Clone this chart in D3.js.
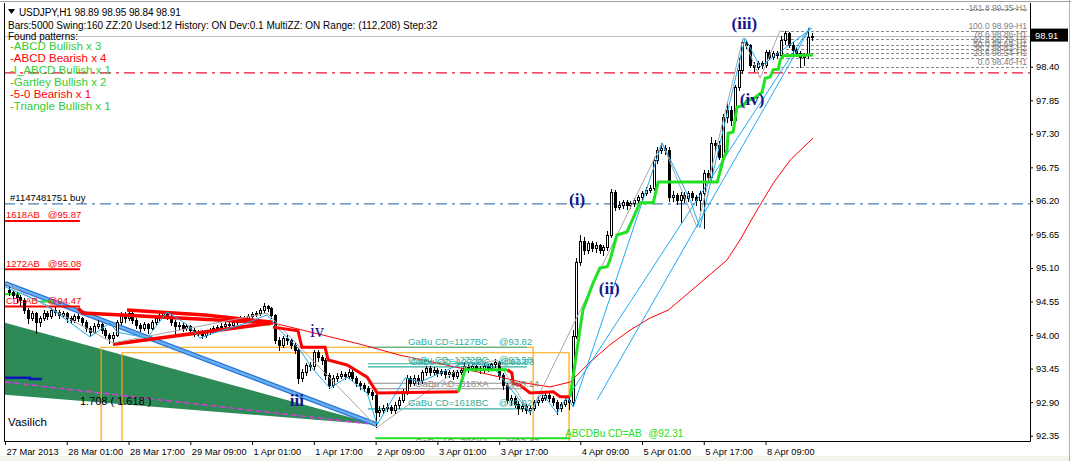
<!DOCTYPE html>
<html><head><meta charset="utf-8">
<script src="https://cdn.jsdelivr.net/npm/d3@7"></script>
<style>body{margin:0;background:#fff;}svg{display:block;}</style>
</head><body>
<svg id="c" width="1071" height="461"></svg>
<script>
// ---------------- DATA ----------------
const header1 = "USDJPY,H1  98.89 98.95 98.84 98.91";
const header2 = "Bars:5000  Swing:160  ZZ:20  Used:12  History: ON Dev:0.1  MultiZZ: ON  Range: (112,208)  Step:32";
const patternNames = ["-ABCD Bullish x 3","-ABCD Bearish x 4","-I_ABCD Bullish x 1","-Gartley Bullish x 2","-5-0 Bearish x 1","-Triangle Bullish x 1"];
const patternBull = [true,false,true,true,false,true];

const timeTickIdx = [0,16,32,48,64,80,96,112,128,149,165,181,197];
const timeLabels = ["27 Mar 2013","28 Mar 01:00","28 Mar 17:00","29 Mar 09:00","1 Apr 01:00","1 Apr 17:00","2 Apr 09:00","3 Apr 01:00","3 Apr 17:00","4 Apr 09:00","5 Apr 01:00","5 Apr 17:00","8 Apr 09:00"];
const priceTicks = [98.40,97.85,97.30,96.75,96.20,95.65,95.10,94.55,94.00,93.45,92.90,92.35];
const lastPrice = 98.91;

const firstOpen = 94.74;
const closes = [94.71,94.66,94.62,94.57,94.41,94.28,94.36,94.21,94.28,94.36,
94.31,94.41,94.38,94.33,94.36,94.28,94.25,94.31,94.28,94.21,
94.12,94.05,94.15,94.18,94.08,94.00,93.95,94.00,94.21,94.33,
94.28,94.36,94.25,94.17,94.12,94.18,94.12,94.21,94.28,94.33,
94.36,94.31,94.21,94.15,94.17,94.12,94.15,94.08,94.03,94.05,
94.00,94.05,94.08,94.12,94.13,94.15,94.18,94.17,94.21,94.25,
94.28,94.27,94.31,94.34,94.36,94.41,94.48,94.44,94.33,93.92,
93.83,93.95,93.92,93.83,93.75,93.30,93.39,93.51,93.49,93.72,
93.64,93.59,93.34,93.18,93.30,93.33,93.36,93.33,93.39,93.30,
93.21,93.18,93.13,93.07,93.02,92.74,92.77,92.80,92.82,92.77,
92.85,92.94,93.07,93.30,93.21,93.30,93.26,93.39,93.46,93.39,
93.43,93.38,93.41,93.36,93.39,93.33,93.39,93.43,93.49,93.46,
93.49,93.46,93.43,93.49,93.46,93.52,93.56,93.34,93.18,92.94,
92.97,92.87,92.80,92.83,92.77,92.80,92.90,92.94,92.97,93.02,
92.97,92.90,92.80,92.87,92.94,92.90,93.99,95.20,95.55,95.39,
95.51,95.43,95.48,95.39,95.44,95.64,96.35,96.10,96.13,96.18,
96.13,96.17,96.21,96.26,96.33,96.38,96.41,96.87,97.03,97.07,
97.03,96.26,96.30,96.21,96.30,96.25,96.33,96.26,96.21,96.33,
96.66,96.59,97.15,97.12,96.92,97.57,97.69,97.53,98.07,98.35,
98.80,98.76,98.43,98.40,98.46,98.43,98.64,98.56,98.62,98.60,
98.84,98.95,98.76,98.67,98.62,98.56,98.59,98.89,98.91];
const highs = [94.79,94.74,94.70,94.66,94.60,94.45,94.40,94.38,94.32,94.41,
94.40,94.45,94.46,94.41,94.40,94.38,94.31,94.35,94.34,94.30,
94.24,94.15,94.19,94.24,94.20,94.11,94.03,94.05,94.25,94.38,
94.37,94.41,94.38,94.28,94.20,94.22,94.20,94.24,94.31,94.36,
94.40,94.38,94.33,94.24,94.21,94.19,94.18,94.17,94.11,94.09,
94.08,94.08,94.11,94.15,94.17,94.19,94.21,94.22,94.24,94.28,
94.31,94.32,94.34,94.38,94.40,94.44,94.52,94.50,94.46,94.35,
93.97,93.99,94.00,93.95,93.87,93.78,93.44,93.55,93.56,93.76,
93.75,93.68,93.62,93.38,93.34,93.38,93.41,93.40,93.44,93.42,
93.33,93.25,93.22,93.16,93.10,93.05,92.84,92.86,92.88,92.86,
92.90,92.98,93.12,93.34,93.33,93.34,93.35,93.43,93.50,93.49,
93.47,93.46,93.45,93.44,93.43,93.42,93.42,93.47,93.55,93.52,
93.53,93.52,93.49,93.52,93.52,93.55,93.60,93.58,93.38,93.22,
93.02,93.00,92.92,92.88,92.87,92.84,92.93,92.98,93.01,93.07,
93.05,93.00,92.93,92.91,92.98,92.99,94.08,95.26,95.64,95.60,
95.55,95.54,95.52,95.50,95.48,95.70,96.40,96.38,96.20,96.22,
96.21,96.20,96.25,96.30,96.37,96.42,96.46,96.92,97.08,97.15,
97.12,97.08,96.36,96.33,96.35,96.34,96.37,96.36,96.30,96.36,
96.71,96.70,97.25,97.20,97.18,97.62,97.80,97.76,98.10,98.54,
98.84,98.84,98.78,98.47,98.50,98.50,98.67,98.68,98.66,98.65,
98.90,98.99,98.97,98.80,98.70,98.66,98.63,99.03,98.95];
const lows = [94.66,94.60,94.55,94.50,94.36,94.20,94.24,94.03,94.15,94.25,
94.26,94.28,94.33,94.28,94.29,94.22,94.19,94.22,94.23,94.16,
94.07,94.00,94.03,94.12,94.04,93.96,93.87,93.90,93.98,94.18,
94.22,94.25,94.20,94.12,94.06,94.09,94.03,94.10,94.18,94.25,
94.29,94.26,94.17,94.03,94.10,94.07,94.08,94.04,93.99,93.98,
93.95,93.97,94.01,94.05,94.08,94.10,94.12,94.13,94.14,94.18,
94.22,94.23,94.24,94.28,94.31,94.33,94.38,94.39,94.28,93.87,
93.75,93.80,93.86,93.79,93.70,93.21,93.25,93.35,93.42,93.45,
93.58,93.52,93.28,93.13,93.15,93.25,93.29,93.28,93.30,93.26,
93.17,93.12,93.08,93.03,92.95,92.49,92.68,92.72,92.75,92.72,
92.73,92.81,92.90,93.04,93.16,93.18,93.20,93.22,93.35,93.34,
93.35,93.33,93.34,93.31,93.32,93.28,93.30,93.36,93.40,93.40,
93.42,93.41,93.38,93.40,93.41,93.43,93.48,93.28,93.12,92.88,
92.86,92.82,92.71,92.75,92.72,92.70,92.77,92.86,92.90,92.94,
92.92,92.85,92.71,92.76,92.84,92.78,92.86,93.95,95.15,95.33,
95.35,95.38,95.37,95.34,95.31,95.40,95.60,96.05,96.06,96.08,
96.07,96.09,96.12,96.17,96.22,96.29,96.34,96.38,96.82,96.98,
96.97,96.20,96.19,96.15,95.85,96.18,96.20,96.21,96.14,96.05,
95.75,96.52,96.55,97.02,96.88,96.88,97.50,97.45,97.50,98.02,
98.30,98.70,98.40,98.33,98.36,98.38,98.40,98.52,98.53,98.55,
98.56,98.78,98.72,98.62,98.57,98.40,98.42,98.55,98.84];

// trailing stop line (bar index, price), coloured by trend
const trailDown1 = [[69.4,94.13],[75.9,94.07],[76.9,93.80],[82.9,93.80],[83.7,93.59],[88.6,93.51],[93.8,93.31],[96.4,93.05],[117.4,93.07]];
const trailUp1 = [[117.4,93.07],[119.2,93.43],[130.1,93.43]];
const trailDown2 = [[130.1,93.43],[131.3,93.38],[131.6,93.21],[133.4,93.18],[136,93.05],[142,93.07],[143.8,92.99],[146.4,92.99]];
const trailUp2 = [[146.4,92.99],[148.9,94.08],[149.7,94.41],[152.3,94.85],[154.1,95.10],[156,95.12],[156.7,95.23],[158.5,95.64],[161.1,95.69],[164.5,96.17],[167.9,96.17],[169.2,96.51],[184.5,96.51],[186,96.87],[187,97.03],[187.3,97.31],[188.6,97.33],[189.6,97.74],[191.2,97.76],[192.2,97.85],[193.8,97.87],[196.1,97.98],[196.9,98.21],[198.2,98.23],[199,98.35],[200.3,98.36],[200.8,98.51],[201.6,98.58],[209.3,98.59]];
// slow moving average
const maLine = [[69.4,94.20],[92,93.85],[102.3,93.67],[117.9,93.46],[135.2,93.21],[141.2,93.15],[146.4,93.23],[151.6,93.56],[156.7,93.84],[161.9,94.08],[167.1,94.28],[171.8,94.41],[180,94.85],[187,95.23],[190.4,95.56],[194.8,96.05],[199,96.49],[203.4,96.87],[209.3,97.23]];
// zigzags
const cyanZig = [[0,94.79],[9.8,94.53],[22,93.97],[27.2,94.20],[29,94.05],[36.8,93.95],[42,94.38],[47.2,94.17],[50.5,93.95],[53.9,94.03],[62.7,94.20],[67.9,94.33],[70.5,94.12],[76.4,93.76],[79.5,93.46],[84.2,93.13],[88.6,93.31],[93.8,93.05],[96.4,92.53],[103.6,93.30],[107.5,93.23],[119.2,93.56],[126.4,93.48],[132.6,92.99],[136,92.72],[139.1,93.05],[143,92.72],[145.6,92.99],[147.2,92.82],[170.2,97.15],[177.5,96.21],[180,95.76],[191.7,98.87],[195.6,98.40],[209,99.03]];
const grayZig = [[0,94.85],[28,93.87],[67.9,94.36],[96.4,92.49],[117.9,93.46],[127.5,93.59],[136,92.72],[170.2,97.15],[179.3,95.76],[191.2,98.87],[195.6,98.21],[200.8,99.00]];
const cyanLong1 = [[145.4,92.94],[208.5,99.05]];
const cyanLong2 = [[153.4,92.94],[208.5,99.03]];
// triangle / channel objects
const redTri = [[[18.9,94.44],[20.2,94.36],[69.4,94.20]], [[31.6,94.41],[51.8,94.33],[69.4,94.21]], [[28,93.85],[69.4,94.20]]];
const blueChannel = [[0,94.85],[96.4,92.53]];
const greenWedge = [[0,94.20],[96.4,92.53],[0,93.02]];
const magentaLine = [[0,93.23],[96.4,92.53]];
const navyLine = [[0,93.30],[6.5,93.30],[6.5,93.28],[9.6,93.28]];
const greenTicks = [[[0,94.67],[3.9,94.67]],[[9.1,94.55],[12.4,94.55]],[[64.2,94.17],[68.7,94.17]]];
// boxes and levels
const orangeBoxes = [{i0:24.9,i1:136.8,p:93.80},{i0:30.3,i1:146.1,p:93.71}];
const gabuLevels = [93.80,93.53,93.48,92.79];
const gabuGrayLevels = [93.21,93.12];
const gabuText = ["GaBu CD=1127BC","GaBu CD=1272BC","GaBu CD=1272BC","GaBu AD=618XA","GaBu CD=1618BC","GaBu AD=786XA"];
const gabuPrice = ["@93.82","@93.58","@93.53","@93.14","@92.92","@92.47"];
const gabuAt = [[104.4,93.89],[104.4,93.59],[104.9,93.56],[106.2,93.21],[104.4,92.89],[106.2,92.25]];
const gabuGray = [false,false,false,true,false,true];
const abcdLevel = {i0:95.9,i1:146.4,p:92.31,text:"ABCDBu CD=AB",price:"@92.31"};
const redLevels = [{name:"1618AB",p:95.87},{name:"1272AB",p:95.08},{name:"CD=AB",p:94.47}];
const orderLevel = {p:96.15,text:"#1147481751 buy"};
const redDashLevel = 98.30;
const fibRatios = ["161.8","100.0","78.6","61.8","50.0","38.2","23.6","0.0"];
const fibPrices = [99.35,98.99,98.86,98.76,98.69,98.62,98.54,98.40];
const waveLabels = [{t:"(iii)",i:191.5,p:99.12,b:true},{t:"(iv)",i:193.5,p:97.87,b:true},{t:"(i)",i:148.2,p:96.23,b:true},{t:"(ii)",i:156.5,p:94.77,b:true},{t:"iv",i:80.8,p:94.07,b:false},{t:"iii",i:75.6,p:92.94,b:true},{t:"v",i:96.1,p:92.22,b:false}];
const ratioText = {t:"1.708 ( 1.618 )",i:19.4,p:92.91};
const signature = {t:"Vasilich",i:0.8,p:92.58};

// ---------------- DRAW ----------------
const svg = d3.select("#c");
const PL=4, PR=1030, PT=3, PB=441;
const x = d3.scaleLinear().domain([0,265.5]).range([5,1030]);
const y = d3.scaleLinear().domain([92.35,98.40]).range([435.7,66.7]);
const line = d3.line().x(d=>x(d[0])).y(d=>y(d[1]));
const SANS = "'Liberation Sans', Arial, sans-serif";

svg.append("rect").attr("width",1071).attr("height",461).attr("fill","#fff");
svg.append("rect").attr("x",0).attr("y",456).attr("width",1071).attr("height",5).attr("fill","#f4f4ec");
svg.append("line").attr("x1",1069.5).attr("x2",1069.5).attr("y1",0).attr("y2",461).attr("stroke","#b0b0b0");
svg.append("line").attr("x1",0).attr("x2",1071).attr("y1",1.5).attr("y2",1.5).attr("stroke","#a0a0a0");

svg.append("defs").append("clipPath").attr("id","plot")
  .append("rect").attr("x",PL).attr("y",PT).attr("width",PR-PL).attr("height",PB-PT);
const g = svg.append("g").attr("clip-path","url(#plot)");

// green wedge
g.append("path").attr("d", line(greenWedge)+"Z").attr("fill","#2e8b57");
// orange boxes
orangeBoxes.forEach(b=>{
  g.append("path").attr("d",`M${x(b.i0)},${PB+2}V${y(b.p)}H${x(b.i1)}V${PB+2}`)
   .attr("fill","none").attr("stroke","#ffa500").attr("stroke-width",1.2);
});
// gartley levels
gabuLevels.forEach(p=>g.append("path").attr("d",line([[94,p],[135.2,p]])).attr("stroke","#2fae9e").attr("stroke-width",1.2).attr("fill","none"));
gabuGrayLevels.forEach(p=>g.append("path").attr("d",line([[94,p],[135.2,p]])).attr("stroke","#8c8c8c").attr("stroke-width",1.2).attr("fill","none"));
g.append("path").attr("d",line([[abcdLevel.i0,abcdLevel.p],[abcdLevel.i1,abcdLevel.p]])).attr("stroke","#22dd22").attr("stroke-width",2).attr("fill","none");
// magenta, navy
g.append("path").attr("d",line(magentaLine)).attr("stroke","#d83ad8").attr("stroke-width",1.5).attr("stroke-dasharray","6,3").attr("fill","none");
g.append("path").attr("d",line(navyLine)).attr("stroke","#0a1ab4").attr("stroke-width",2.5).attr("fill","none");
// blue channel line
g.append("path").attr("d",line(blueChannel)).attr("stroke","#2f78d8").attr("stroke-width",5).attr("fill","none");
g.append("path").attr("d",line(blueChannel)).attr("stroke","#6cb2f2").attr("stroke-width",2).attr("fill","none");
// dash-dot levels
g.append("line").attr("x1",PL).attr("x2",PR).attr("y1",y(redDashLevel)).attr("y2",y(redDashLevel))
  .attr("stroke","#e8103a").attr("stroke-width",1.2).attr("stroke-dasharray","11,5,3,5");
g.append("line").attr("x1",PL).attr("x2",PR).attr("y1",y(orderLevel.p)).attr("y2",y(orderLevel.p))
  .attr("stroke","#4a7eb0").attr("stroke-width",1.2).attr("stroke-dasharray","11,5,3,5");
// bid line
g.append("line").attr("x1",PL).attr("x2",PR).attr("y1",Math.round(y(lastPrice))+0.5).attr("y2",Math.round(y(lastPrice))+0.5).attr("stroke","#bdbdbd");
// fib lines
fibPrices.forEach(p=>{
  g.append("line").attr("x1",x(201)).attr("x2",PR-3).attr("y1",Math.round(y(p))+0.5).attr("y2",Math.round(y(p))+0.5)
   .attr("stroke","#8a8a8a").attr("stroke-dasharray","3,2");
});
// red level labels lines
redLevels.forEach(r=>{
  g.append("line").attr("x1",x(0)).attr("x2",x(19.4)).attr("y1",y(r.p)).attr("y2",y(r.p)).attr("stroke","#ff0000").attr("stroke-width",2);
});
// green small segments
greenTicks.forEach(s=>g.append("path").attr("d",line(s)).attr("stroke","#22dd22").attr("stroke-width",2).attr("fill","none"));

// candles
const bars = closes.map((c,k)=>({i:k+1,o:k===0?firstOpen:closes[k-1],h:highs[k],l:lows[k],c:c}));
const cg = g.append("g");
bars.forEach(b=>{
  const cx = Math.round(x(b.i));
  cg.append("line").attr("x1",cx+0.5).attr("x2",cx+0.5).attr("y1",Math.round(y(b.h))).attr("y2",Math.round(y(b.l))+1).attr("stroke","#000");
  const top = Math.round(y(Math.max(b.o,b.c))), bot = Math.round(y(Math.min(b.o,b.c)));
  const up = b.c>=b.o;
  cg.append("rect").attr("x",cx-0.5).attr("y",top+0.5).attr("width",2).attr("height",Math.max(bot-top,0.01))
    .attr("fill",up?"#fff":"#000").attr("stroke","#000").attr("stroke-width",1);
});

// red triangle
redTri.forEach(t=>g.append("path").attr("d",line(t)).attr("stroke","#ff0000").attr("stroke-width",3.5).attr("fill","none"));
// MA
g.append("path").attr("d",line(maLine)).attr("stroke","#ff0000").attr("stroke-width",1).attr("fill","none");
// zigzags
g.append("path").attr("d",line(grayZig)).attr("stroke","#a8a8a8").attr("stroke-width",1).attr("fill","none");
g.append("path").attr("d",line(cyanZig)).attr("stroke","#1eaaf0").attr("stroke-width",1).attr("fill","none");
[cyanLong1,cyanLong2].forEach(l=>g.append("path").attr("d",line(l)).attr("stroke","#1eaaf0").attr("stroke-width",1).attr("fill","none"));
// trailing line
[trailDown1,trailDown2].forEach(l=>g.append("path").attr("d",line(l)).attr("stroke","#ff0000").attr("stroke-width",3).attr("fill","none"));
[trailUp1,trailUp2].forEach(l=>g.append("path").attr("d",line(l)).attr("stroke","#22e022").attr("stroke-width",3).attr("fill","none"));

// ------------- TEXTS -------------
const tg = g.append("g").attr("font-family",SANS);
gabuText.forEach((t,k)=>{
  const col = gabuGray[k]?"#8c8c8c":"#2fae9e";
  tg.append("text").attr("x",x(gabuAt[k][0])).attr("y",y(gabuAt[k][1])).attr("dy","0.35em").attr("font-size",9.5).attr("fill",col).text(t);
  tg.append("text").attr("x",x(gabuAt[k][0]+23.5)).attr("y",y(gabuAt[k][1])).attr("dy","0.35em").attr("font-size",9.5).attr("fill",col).text(gabuPrice[k]);
});
tg.append("text").attr("x",x(abcdLevel.i0+49.2)).attr("y",y(abcdLevel.p+0.07)).attr("dy","0.35em").attr("font-size",10).attr("fill","#22dd22").text(abcdLevel.text);
tg.append("text").attr("x",x(abcdLevel.i0+70.7)).attr("y",y(abcdLevel.p+0.07)).attr("dy","0.35em").attr("font-size",10).attr("fill","#22dd22").text(abcdLevel.price);
redLevels.forEach(r=>{
  tg.append("text").attr("x",x(0.26)).attr("y",y(r.p)-6).attr("dy","0.35em").attr("font-size",9.5).attr("fill","#ff0000").text(r.name);
  tg.append("text").attr("x",x(11.1)).attr("y",y(r.p)-6).attr("dy","0.35em").attr("font-size",9.5).attr("fill","#ff0000").text("@"+r.p.toFixed(2));
});
tg.append("text").attr("x",x(1.3)).attr("y",y(orderLevel.p)-6).attr("dy","0.35em").attr("font-size",9.5).attr("fill","#000").text(orderLevel.text);
fibPrices.forEach((p,k)=>{
  tg.append("text").attr("x",PR-3).attr("y",Math.max(y(p)-5,PT+5)).attr("dy","0.35em").attr("text-anchor","end").attr("font-size",8.5).attr("fill","#808080")
    .text(`${fibRatios[k]} ${p.toFixed(2)}-H1`);
});
tg.append("text").attr("x",x(ratioText.i)).attr("y",y(ratioText.p)).attr("dy","0.35em").attr("font-size",11).attr("fill","#000").text(ratioText.t);
tg.append("text").attr("x",x(signature.i)).attr("y",y(signature.p)).attr("dy","0.35em").attr("font-size",11.5).attr("fill","#000").text(signature.t);
waveLabels.forEach(w=>{
  tg.append("text").attr("x",x(w.i)).attr("y",y(w.p)).attr("dy","0.35em").attr("text-anchor","middle")
    .attr("font-family","'Liberation Serif', 'Times New Roman', serif").attr("font-weight",w.b?"bold":"normal")
    .attr("font-size",w.t.length>2?17:18).attr("fill","#16168c").text(w.t);
});

// header
const hg = svg.append("g").attr("font-family",SANS).attr("font-size",10);
hg.append("path").attr("d","M8,9H15L11.5,14Z").attr("fill","#000");
hg.append("text").attr("x",19).attr("y",15.5).attr("letter-spacing",-0.1).text(header1);
hg.append("text").attr("x",8).attr("y",28.5).text(header2);
hg.append("text").attr("x",8).attr("y",39.5).text("Found patterns:");
patternNames.forEach((t,k)=>{
  hg.append("text").attr("x",10).attr("y",49.5+k*12.1).attr("font-size",11.5).attr("fill",patternBull[k]?"#33cc33":"#ff0000").text(t);
});

// frame
svg.append("path").attr("d",`M${PL+0.5},${PT}V${PB+0.5}H${PR+0.5}V${PT}`).attr("fill","none").attr("stroke","#000");

// axes
const ax = svg.append("g").attr("transform",`translate(0,${PB})`)
  .call(d3.axisBottom(x).tickValues(timeTickIdx).tickSize(4).tickFormat((d,k)=>timeLabels[k]));
ax.select(".domain").remove();
ax.selectAll("text").attr("text-anchor","start").attr("dx",1).attr("font-family",SANS).attr("font-size",9.3).attr("fill","#000");
ax.selectAll("line").attr("stroke","#000");
const ay = svg.append("g").attr("transform",`translate(${PR},0)`)
  .call(d3.axisRight(y).tickValues(priceTicks).tickSize(3).tickFormat(d3.format(".2f")));
ay.select(".domain").remove();
ay.selectAll("text").attr("font-family",SANS).attr("font-size",9.3).attr("fill","#000");
ay.selectAll("line").attr("stroke","#000");
// last price box
const ly = y(lastPrice);
svg.append("rect").attr("x",PR+1).attr("y",ly-7).attr("width",37).attr("height",13).attr("fill","#000");
svg.append("text").attr("x",PR+5).attr("y",ly).attr("dy","0.35em").attr("font-family",SANS).attr("font-size",9.3).attr("fill","#fff").text(lastPrice.toFixed(2));
</script>
</body></html>
